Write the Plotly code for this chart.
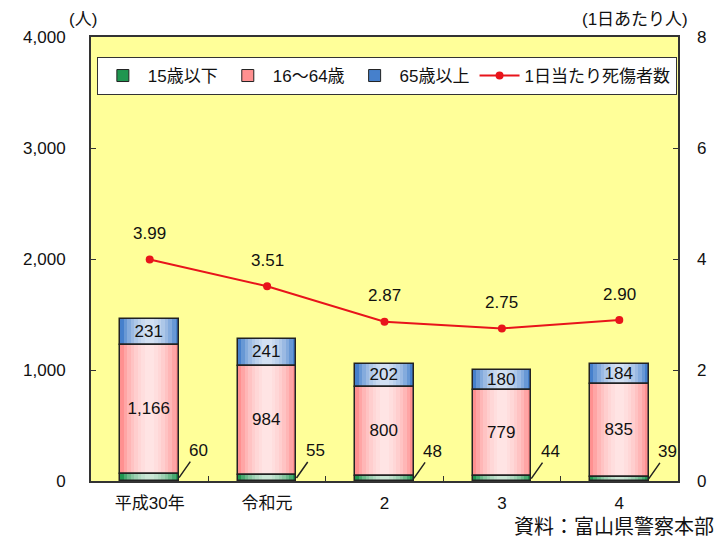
import plotly.graph_objects as go

categories = ["平成30年", "令和元", "2", "3", "4"]
age_under15 = [60, 55, 48, 44, 39]
age_16_64 = [1166, 984, 800, 779, 835]
age_65over = [231, 241, 202, 180, 184]
per_day = [3.99, 3.51, 2.87, 2.75, 2.90]
per_day_labels = ["3.99", "3.51", "2.87", "2.75", "2.90"]
left_ticks = [0, 1000, 2000, 3000, 4000]
left_tick_text = ["0", "1,000", "2,000", "3,000", "4,000"]
right_ticks = [0, 2, 4, 6, 8]

FONT = "Liberation Sans, Arial, Noto Sans CJK JP"
BW = 0.5

base_green = [0] * len(categories)
base_pink = age_under15[:]
base_blue = [a + b for a, b in zip(age_under15, age_16_64)]

segments = [
    ("15歳以下", age_under15, base_green, "#1F9650", None),
    ("16〜64歳", age_16_64, base_pink, "#FF9090", [f"{v:,}" for v in age_16_64]),
    ("65歳以上", age_65over, base_blue, "#4680CC", [str(v) for v in age_65over]),
]

fig = go.Figure()

for name, vals, base, col, _ in segments:
    fig.add_trace(go.Bar(
        x=categories, y=vals, base=base, width=BW, name=name,
        marker=dict(color=col, line=dict(color="#222", width=1)),
        showlegend=True, hoverinfo="skip",
    ))

for w in [0.44, 0.38, 0.32, 0.26, 0.20, 0.14, 0.08]:
    for name, vals, base, col, _ in segments:
        fig.add_trace(go.Bar(
            x=categories, y=vals, base=base, width=w,
            marker=dict(color="white", opacity=0.19, line=dict(width=0)),
            showlegend=False, hoverinfo="skip",
        ))

for name, vals, base, col, txt in segments:
    fig.add_trace(go.Bar(
        x=categories, y=vals, base=base, width=BW,
        marker=dict(color="rgba(0,0,0,0)", line=dict(color="#222", width=1.5)),
        text=txt, textposition="inside" if txt else "none",
        insidetextanchor="middle", textangle=0, constraintext="none",
        textfont=dict(family=FONT, size=17, color="#111"),
        showlegend=False, hoverinfo="skip",
    ))

fig.add_trace(go.Scatter(
    x=categories, y=per_day, yaxis="y2", mode="lines+markers",
    name="1日当たり死傷者数",
    line=dict(color="#E8141B", width=2),
    marker=dict(color="#E8141B", size=8),
))

annotations = []
for i, v in enumerate(per_day):
    annotations.append(dict(
        x=i, y=v, xref="x", yref="y2", text=per_day_labels[i],
        showarrow=False, yshift=26,
        font=dict(family=FONT, size=17, color="#111"),
    ))
for i, v in enumerate(age_under15):
    annotations.append(dict(
        x=i + BW / 2, y=v / 2, xref="x", yref="y", text=str(v),
        showarrow=True, arrowhead=0, arrowwidth=1.5, arrowcolor="#222",
        ax=19, ay=-27, standoff=0,
        font=dict(family=FONT, size=17, color="#111"),
    ))
annotations += [
    dict(x=0.0, y=1.0, xref="paper", yref="paper", text="(人)",
         showarrow=False, xanchor="center", yanchor="bottom", xshift=-8, yshift=6,
         font=dict(family=FONT, size=17, color="#111")),
    dict(x=1.0, y=1.0, xref="paper", yref="paper", text="(1日あたり人)",
         showarrow=False, xanchor="right", yanchor="bottom", xshift=12, yshift=6,
         font=dict(family=FONT, size=17, color="#111")),
    dict(x=1.0, y=0, xref="paper", yref="paper", text="資料：富山県警察本部",
         showarrow=False, xanchor="right", yanchor="top", xshift=38, yshift=-33,
         font=dict(family=FONT, size=20, color="#111")),
]

# page body has an 8px margin, so margins are offset by 8px
fig.update_layout(
    width=727, height=543,
    margin=dict(l=83, r=57, t=29, b=70),
    paper_bgcolor="white", plot_bgcolor="#FFFF99",
    barmode="overlay", bargap=0,
    font=dict(family=FONT, size=17, color="#111"),
    xaxis=dict(type="category", range=[-0.5, 4.5], showgrid=False, zeroline=False,
               showline=True, linecolor="#333", linewidth=2, mirror=True,
               ticks="inside", tickson="boundaries", ticklen=5, tickcolor="#333",
               tickfont=dict(size=17), ticklabelstandoff=6),
    yaxis=dict(range=[0, 4000], tickmode="array", tickvals=left_ticks,
               ticktext=left_tick_text, showgrid=False, zeroline=False,
               showline=True, linecolor="#333", linewidth=2, mirror=True,
               ticks="inside", ticklen=5, tickcolor="#333", ticklabelstandoff=20,
               tickfont=dict(size=17)),
    yaxis2=dict(range=[0, 8], overlaying="y", side="right", tickmode="array",
                tickvals=right_ticks, showgrid=False, zeroline=False,
                showline=False, ticks="inside", ticklen=5, tickcolor="#333",
                ticklabelstandoff=18, tickfont=dict(size=17)),
    legend=dict(orientation="h", x=0.01, y=0.955, xanchor="left", yanchor="top",
                bgcolor="white", bordercolor="#333", borderwidth=1,
                font=dict(size=17, color="#111"), traceorder="normal",
                itemwidth=40, tracegroupgap=0),
    annotations=annotations,
    showlegend=True,
)

fig.write_html("out.html")
